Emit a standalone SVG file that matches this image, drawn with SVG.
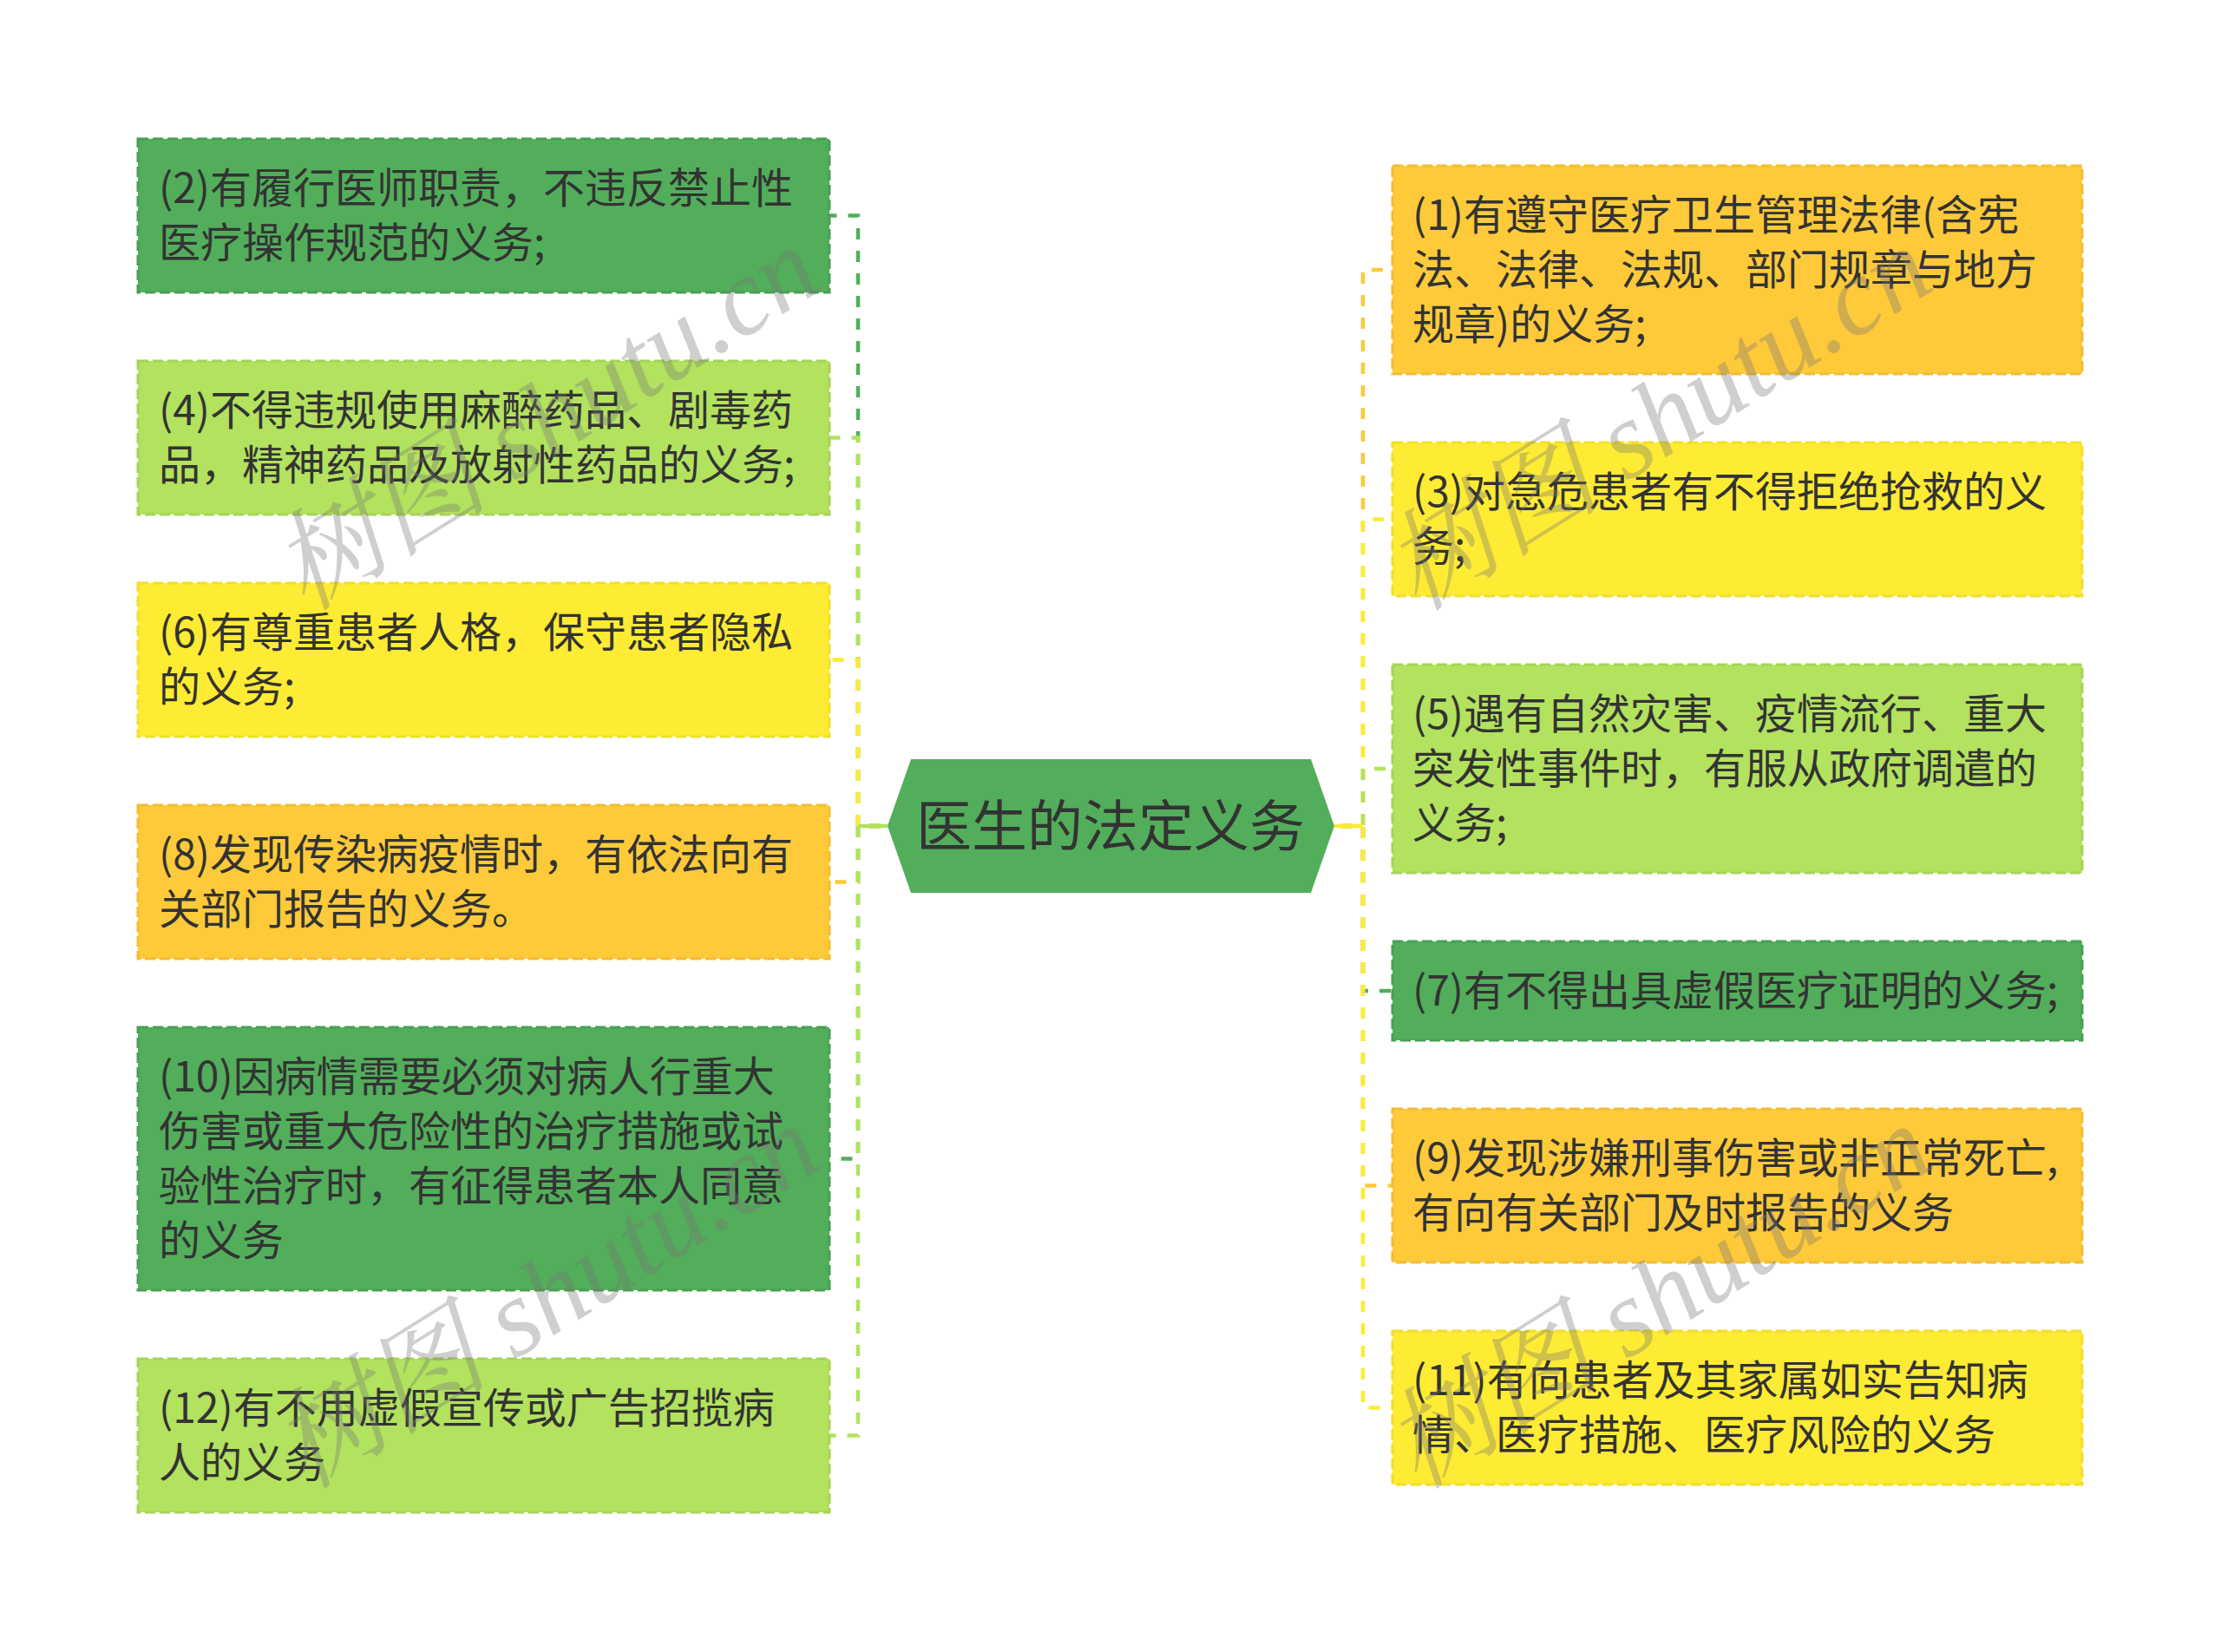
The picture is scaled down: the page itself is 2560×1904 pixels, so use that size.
<svg xmlns="http://www.w3.org/2000/svg" width="2560" height="1904" viewBox="0 0 2560 1904">
<style>
.t{font-family:"Noto Sans CJK SC","Noto Sans",sans-serif;font-size:48px;fill:#333333}
.c{font-family:"Noto Sans CJK SC","Noto Sans",sans-serif;font-size:64px;fill:#333333}
.box{stroke-width:3;stroke-dasharray:12 5}
.dg{fill:#52AE5B;stroke:#4A9F52}
.lg{fill:#B2E25E;stroke:#A6D455}
.ye{fill:#FEEB33;stroke:#F2DE2C}
.or{fill:#FECA3A;stroke:#F2BD33}
.ln{fill:none;stroke-width:4.5;stroke-dasharray:13 13;stroke-dashoffset:-34}
.sl{fill:none;stroke-width:4.5}
.wm{font-family:"Liberation Serif","Noto Serif CJK SC","Noto Sans CJK SC",serif;font-style:italic;font-size:126px;fill:#777;opacity:0.35}
</style>
<rect width="2560" height="1904" fill="#ffffff"/>
<g id="connectors">
<path class="ln" stroke="#52AE5B" d="M1023 952 H989 V248.5 H956"/>
<path class="ln" stroke="#B2E25E" d="M1023 952 H989 V504.5 H956"/>
<path class="ln" stroke="#FEEB33" d="M1023 952 H989 V760.5 H956"/>
<path class="ln" stroke="#FECA3A" d="M1023 952 H989 V1016.5 H956"/>
<path class="ln" stroke="#52AE5B" d="M1023 952 H989 V1335.5 H956"/>
<path class="ln" stroke="#B2E25E" d="M1023 952 H989 V1654.5 H956"/>
<path class="sl" stroke="#B2E25E" d="M1023 952 H989"/>
<path class="ln" stroke="#FECA3A" d="M1538 952 H1571 V311 H1605"/>
<path class="ln" stroke="#FEEB33" d="M1538 952 H1571 V598.5 H1605"/>
<path class="ln" stroke="#B2E25E" d="M1538 952 H1571 V886 H1605"/>
<path class="ln" stroke="#52AE5B" d="M1538 952 H1571 V1142 H1605"/>
<path class="ln" stroke="#FECA3A" d="M1538 952 H1571 V1366.5 H1605"/>
<path class="ln" stroke="#FEEB33" d="M1538 952 H1571 V1622.5 H1605"/>
<path class="sl" stroke="#FEEB33" d="M1538 952 H1571"/>
</g>
<g id="center">
<polygon points="1023,952 1050,875 1511,875 1538,952 1511,1029 1050,1029" fill="#52AE5B"/>
<text class="c" x="1280" y="975" text-anchor="middle">医生的法定义务</text>
</g>
<g id="n2">
<rect class="box dg" x="159" y="160" width="797" height="177"/>
<text class="t"><tspan x="183" y="234">(2)有履行医师职责，不违反禁止性</tspan><tspan x="183" y="297">医疗操作规范的义务;</tspan></text>
</g>
<g id="n4">
<rect class="box lg" x="159" y="416" width="797" height="177"/>
<text class="t"><tspan x="183" y="490">(4)不得违规使用麻醉药品、剧毒药</tspan><tspan x="183" y="553">品，精神药品及放射性药品的义务;</tspan></text>
</g>
<g id="n6">
<rect class="box ye" x="159" y="672" width="797" height="177"/>
<text class="t"><tspan x="183" y="746">(6)有尊重患者人格，保守患者隐私</tspan><tspan x="183" y="809">的义务;</tspan></text>
</g>
<g id="n8">
<rect class="box or" x="159" y="928" width="797" height="177"/>
<text class="t"><tspan x="183" y="1002">(8)发现传染病疫情时，有依法向有</tspan><tspan x="183" y="1065">关部门报告的义务。</tspan></text>
</g>
<g id="n10">
<rect class="box dg" x="159" y="1184" width="797" height="303"/>
<text class="t"><tspan x="183" y="1258">(10)因病情需要必须对病人行重大</tspan><tspan x="183" y="1321">伤害或重大危险性的治疗措施或试</tspan><tspan x="183" y="1384">验性治疗时，有征得患者本人同意</tspan><tspan x="183" y="1447">的义务</tspan></text>
</g>
<g id="n12">
<rect class="box lg" x="159" y="1566" width="797" height="177"/>
<text class="t"><tspan x="183" y="1640">(12)有不用虚假宣传或广告招揽病</tspan><tspan x="183" y="1703">人的义务</tspan></text>
</g>
<g id="n1">
<rect class="box or" x="1605" y="191" width="795" height="240"/>
<text class="t"><tspan x="1628" y="265">(1)有遵守医疗卫生管理法律(含宪</tspan><tspan x="1628" y="328">法、法律、法规、部门规章与地方</tspan><tspan x="1628" y="391">规章)的义务;</tspan></text>
</g>
<g id="n3">
<rect class="box ye" x="1605" y="510" width="795" height="177"/>
<text class="t"><tspan x="1628" y="584">(3)对急危患者有不得拒绝抢救的义</tspan><tspan x="1628" y="647">务;</tspan></text>
</g>
<g id="n5">
<rect class="box lg" x="1605" y="766" width="795" height="240"/>
<text class="t"><tspan x="1628" y="840">(5)遇有自然灾害、疫情流行、重大</tspan><tspan x="1628" y="903">突发性事件时，有服从政府调遣的</tspan><tspan x="1628" y="966">义务;</tspan></text>
</g>
<g id="n7">
<rect class="box dg" x="1605" y="1085" width="795" height="114"/>
<text class="t"><tspan x="1628" y="1159">(7)有不得出具虚假医疗证明的义务;</tspan></text>
</g>
<g id="n9">
<rect class="box or" x="1605" y="1278" width="795" height="177"/>
<text class="t"><tspan x="1628" y="1352">(9)发现涉嫌刑事伤害或非正常死亡,</tspan><tspan x="1628" y="1415">有向有关部门及时报告的义务</tspan></text>
</g>
<g id="n11">
<rect class="box ye" x="1605" y="1534" width="795" height="177"/>
<text class="t"><tspan x="1628" y="1608">(11)有向患者及其家属如实告知病</tspan><tspan x="1628" y="1671">情、医疗措施、医疗风险的义务</tspan></text>
</g>
<g id="watermarks">
<text class="wm" transform="translate(352,706) rotate(-32)">树图 shutu.cn</text>
<text class="wm" transform="translate(1634,706) rotate(-32)">树图 shutu.cn</text>
<text class="wm" transform="translate(352,1718) rotate(-32)">树图 shutu.cn</text>
<text class="wm" transform="translate(1634,1718) rotate(-32)">树图 shutu.cn</text>
</g>
</svg>
